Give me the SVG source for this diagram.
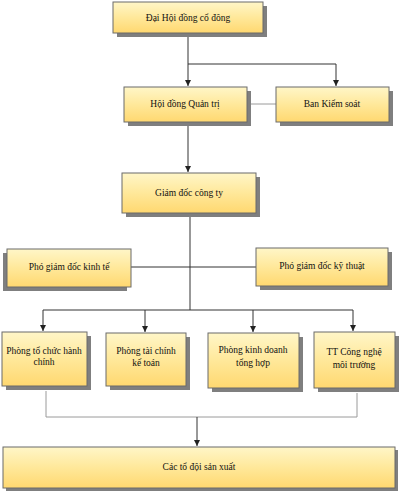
<svg xmlns="http://www.w3.org/2000/svg" width="400" height="500" viewBox="0 0 400 500">
<defs>
<linearGradient id="g" x1="0" y1="0" x2="0" y2="1">
<stop offset="0" stop-color="#fff6c8"/>
<stop offset="0.5" stop-color="#ffe89a"/>
<stop offset="1" stop-color="#ffd870"/>
</linearGradient>
<marker id="a" viewBox="0 0 8 8" refX="8" refY="4" markerWidth="6" markerHeight="6" orient="auto">
<path d="M0,0 L8,4 L0,8 z" fill="#222"/>
</marker>
<style>
.sh{fill:#7f7f7f}
.bx{fill:url(#g);stroke:#6b6b6b;stroke-width:1}
.t{font-family:"Liberation Serif","Times New Roman",serif;font-size:9.5px;fill:#111;text-anchor:middle}
.ln{stroke:#333;stroke-width:1;fill:none}
.lg{stroke:#9a9a9a;stroke-width:1;fill:none}
</style>
</defs>
<rect width="400" height="500" fill="#fff"/>
<g id="connectors">
<path class="ln" d="M188,34 V86" marker-end="url(#a)"/>
<path class="ln" d="M188,64 H336 V86" marker-end="url(#a)"/>
<path class="lg" d="M247,104 H276"/>
<path class="ln" d="M188,123 V172" marker-end="url(#a)"/>
<path class="ln" d="M190,214 V310"/>
<path class="ln" d="M131,267 H256"/>
<path class="ln" d="M43,310 H353"/>
<path class="ln" d="M43,310 V331" marker-end="url(#a)"/>
<path class="ln" d="M145,310 V332" marker-end="url(#a)"/>
<path class="ln" d="M253,310 V332" marker-end="url(#a)"/>
<path class="ln" d="M353,310 V331" marker-end="url(#a)"/>
<path class="lg" d="M46,391 V417 H357 V393"/>
<path class="ln" d="M197,417 V446" marker-end="url(#a)"/>
</g>
<g id="n1"><rect class="sh" x="117" y="6" width="150" height="31"/><rect class="bx" x="113" y="2" width="150" height="31"/><text class="t" x="188" y="21">Đại Hội đồng cổ đông</text></g>
<g id="n2"><rect class="sh" x="128" y="91" width="123" height="35"/><rect class="bx" x="124" y="87" width="123" height="35"/><text class="t" x="185" y="107">Hội đồng Quản trị</text></g>
<g id="n3"><rect class="sh" x="280" y="91" width="113" height="35"/><rect class="bx" x="276" y="87" width="113" height="35"/><text class="t" x="332" y="107">Ban Kiểm soát</text></g>
<g id="n4"><rect class="sh" x="126" y="177" width="134" height="40"/><rect class="bx" x="122" y="173" width="134" height="40"/><text class="t" x="189" y="196">Giám đốc công ty</text></g>
<g id="n5"><rect class="sh" x="3" y="253" width="124" height="38"/><rect class="bx" x="7" y="249" width="124" height="38"/><text class="t" x="69" y="270">Phó giám đốc kinh tế</text></g>
<g id="n6"><rect class="sh" x="260" y="252" width="132" height="38"/><rect class="bx" x="256" y="248" width="132" height="38"/><text class="t" x="322" y="269">Phó giám đốc kỹ thuật</text></g>
<g id="n7"><rect class="sh" x="6" y="336" width="85" height="54"/><rect class="bx" x="2" y="332" width="85" height="54"/><text class="t" x="44" y="354">Phòng tổ chức hành</text><text class="t" x="44" y="365">chính</text></g>
<g id="n8"><rect class="sh" x="110" y="337" width="80" height="53"/><rect class="bx" x="106" y="333" width="80" height="53"/><text class="t" x="146" y="354">Phòng tài chính</text><text class="t" x="146" y="366">kế toán</text></g>
<g id="n9"><rect class="sh" x="212" y="337" width="91" height="55"/><rect class="bx" x="208" y="333" width="91" height="55"/><text class="t" x="253" y="353">Phòng kinh doanh</text><text class="t" x="253" y="366">tổng hợp</text></g>
<g id="n10"><rect class="sh" x="318" y="336" width="81" height="56"/><rect class="bx" x="314" y="332" width="81" height="56"/><text class="t" x="354" y="355">TT Công nghệ</text><text class="t" x="354" y="368">môi trường</text></g>
<g id="n11"><rect class="sh" x="6" y="450" width="392" height="41"/><rect class="bx" x="3" y="447" width="392" height="41"/><text class="t" x="199" y="470">Các tổ đội sản xuất</text></g>
</svg>
